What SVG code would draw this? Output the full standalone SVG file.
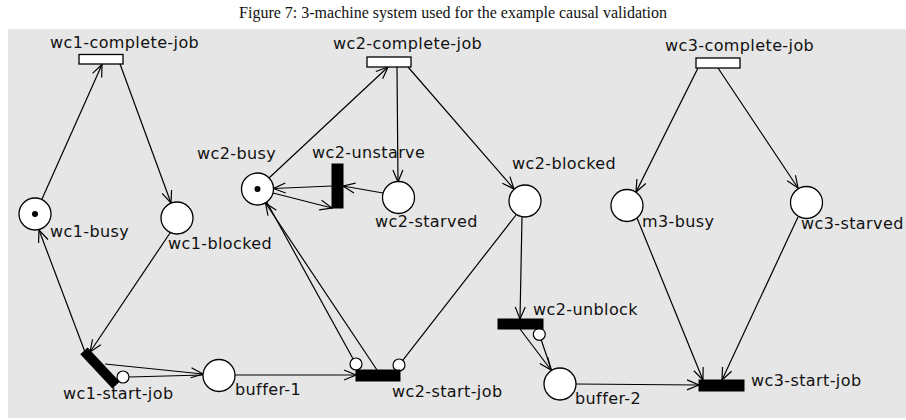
<svg xmlns="http://www.w3.org/2000/svg" width="906" height="420" viewBox="0 0 906 420">
<defs>
<style>
.bg{fill:#e6e6e6}
.title{font-family:"Liberation Serif","DejaVu Serif",serif;font-size:16px;fill:#111}
.lbl{font-family:"DejaVu Sans","Noto Sans",sans-serif;font-size:16px;letter-spacing:0.4px;fill:#111}
.place{fill:#fff;stroke:#000;stroke-width:1.3}
.tok{fill:#000}
.tw{fill:#fff;stroke:#000;stroke-width:1.3}
.tb{fill:#000;stroke:#000;stroke-width:1}
.arc{fill:none;stroke:#000;stroke-width:1.2}
.inh{fill:#fff;stroke:#000;stroke-width:1.2}
</style>
<marker id="ah" viewBox="0 0 14 12" refX="13" refY="6" markerWidth="14" markerHeight="12" markerUnits="userSpaceOnUse" orient="auto">
<path d="M1,1 L13,6 L1,11" fill="none" stroke="#000" stroke-width="1.2"/>
</marker>
</defs>
<rect class="bg" x="8" y="29" width="898" height="389"/>
<text class="title" x="453" y="18" text-anchor="middle">Figure 7: 3-machine system used for the example causal validation</text>

<g id="connectors">
<line class="arc" x1="42" y1="199" x2="102" y2="64.5" marker-end="url(#ah)"/>
<line class="arc" x1="120" y1="64" x2="171" y2="203" marker-end="url(#ah)"/>
<line class="arc" x1="85" y1="352" x2="39" y2="230" marker-end="url(#ah)"/>
<line class="arc" x1="170" y1="233" x2="90" y2="352" marker-end="url(#ah)"/>
<line class="arc" x1="105" y1="364" x2="203" y2="374" marker-end="url(#ah)"/>
<line class="arc" x1="203" y1="375" x2="129" y2="377"/>
<circle class="inh" cx="123" cy="377" r="6"/>
<line class="arc" x1="235" y1="375" x2="356" y2="375" marker-end="url(#ah)"/>
<line class="arc" x1="269" y1="178" x2="388" y2="67" marker-end="url(#ah)"/>
<line class="arc" x1="397" y1="67" x2="398" y2="182" marker-end="url(#ah)"/>
<line class="arc" x1="408" y1="67" x2="514" y2="189" marker-end="url(#ah)"/>
<line class="arc" x1="383" y1="193" x2="343" y2="186" marker-end="url(#ah)"/>
<line class="arc" x1="332" y1="186" x2="273.5" y2="188.5" marker-end="url(#ah)"/>
<line class="arc" x1="273" y1="193" x2="332" y2="208" marker-end="url(#ah)"/>
<line class="arc" x1="266.7" y1="202" x2="353" y2="358.8"/>
<circle class="inh" cx="356" cy="364" r="6"/>
<line class="arc" x1="377" y1="370" x2="265.5" y2="203" marker-end="url(#ah)"/>
<line class="arc" x1="516" y1="215" x2="402.7" y2="360.3"/>
<circle class="inh" cx="399" cy="365" r="6"/>
<line class="arc" x1="522" y1="217" x2="520" y2="319" marker-end="url(#ah)"/>
<line class="arc" x1="520" y1="329" x2="551" y2="370" marker-end="url(#ah)"/>
<line class="arc" x1="551.5" y1="370" x2="541.2" y2="340"/>
<circle class="inh" cx="539.3" cy="334.3" r="6"/>
<line class="arc" x1="576" y1="384" x2="699" y2="385" marker-end="url(#ah)"/>
<line class="arc" x1="637" y1="218" x2="703" y2="380" marker-end="url(#ah)"/>
<line class="arc" x1="798" y1="217" x2="722" y2="380" marker-end="url(#ah)"/>
<line class="arc" x1="698" y1="68" x2="636" y2="192" marker-end="url(#ah)"/>
<line class="arc" x1="718" y1="68" x2="798" y2="188" marker-end="url(#ah)"/>
</g>

<g id="wc1-complete-job"><rect class="tw" x="79" y="54.5" width="44" height="9.5"/><text class="lbl" x="50" y="48">wc1-complete-job</text></g>
<g id="wc2-complete-job"><rect class="tw" x="367" y="57" width="44" height="10"/><text class="lbl" x="333" y="49">wc2-complete-job</text></g>
<g id="wc3-complete-job"><rect class="tw" x="696" y="58" width="44" height="10"/><text class="lbl" x="665" y="51">wc3-complete-job</text></g>

<g id="wc1-busy"><circle class="place" cx="35" cy="214" r="16"/><circle class="tok" cx="35" cy="214" r="3"/><text class="lbl" x="50" y="237">wc1-busy</text></g>
<g id="wc1-blocked"><circle class="place" cx="177" cy="218" r="16"/><text class="lbl" x="168" y="249">wc1-blocked</text></g>
<g id="wc2-busy"><circle class="place" cx="257.5" cy="189" r="16"/><circle class="tok" cx="257.5" cy="189" r="3"/><text class="lbl" x="197" y="159">wc2-busy</text></g>
<g id="wc2-unstarve"><rect class="tb" x="332" y="164" width="11" height="44"/><text class="lbl" x="312" y="158">wc2-unstarve</text></g>
<g id="wc2-starved"><circle class="place" cx="398.5" cy="197.5" r="16"/><text class="lbl" x="375" y="227">wc2-starved</text></g>
<g id="wc2-blocked"><circle class="place" cx="525" cy="201" r="16"/><text class="lbl" x="512" y="169">wc2-blocked</text></g>
<g id="m3-busy"><circle class="place" cx="627" cy="205.5" r="16"/><text class="lbl" x="642" y="227">m3-busy</text></g>
<g id="wc3-starved"><circle class="place" cx="806.5" cy="202.5" r="16"/><text class="lbl" x="801" y="229">wc3-starved</text></g>

<g id="wc1-start-job"><rect class="tb" x="-23" y="-4.5" width="46" height="9" transform="translate(100,368) rotate(47)"/><text class="lbl" x="63" y="399">wc1-start-job</text></g>
<g id="buffer-1"><circle class="place" cx="219" cy="375.5" r="16"/><text class="lbl" x="235" y="395">buffer-1</text></g>
<g id="wc2-start-job"><rect class="tb" x="356" y="370" width="44" height="11"/><text class="lbl" x="392" y="397">wc2-start-job</text></g>
<g id="wc2-unblock"><rect class="tb" x="498" y="319" width="45" height="10"/><text class="lbl" x="533" y="315">wc2-unblock</text></g>
<g id="buffer-2"><circle class="place" cx="560" cy="384" r="16"/><text class="lbl" x="575" y="404">buffer-2</text></g>
<g id="wc3-start-job"><rect class="tb" x="699" y="380" width="45" height="11"/><text class="lbl" x="751" y="386">wc3-start-job</text></g>
</svg>
